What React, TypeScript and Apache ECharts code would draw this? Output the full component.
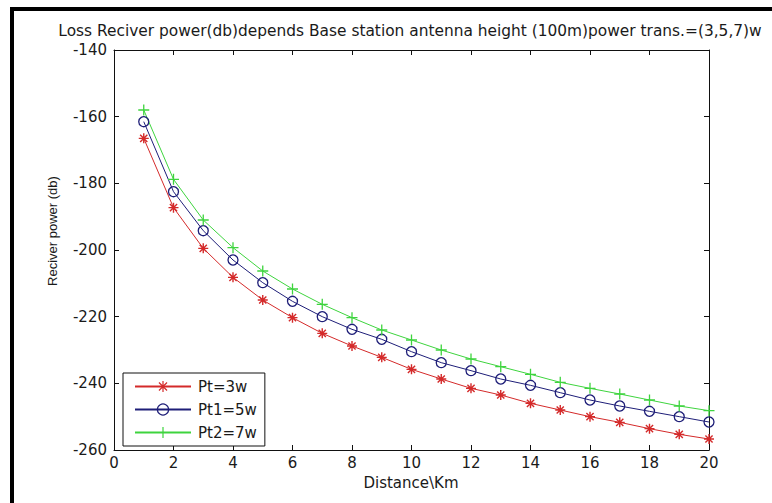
import React, { useEffect, useRef } from "react";
import * as echarts from "echarts";

const distanceKm = [1, 2, 3, 4, 5, 6, 7, 8, 9, 10, 11, 12, 13, 14, 15, 16, 17, 18, 19, 20];
const pt3w = [-166.5, -187.3, -199.5, -208.2, -215, -220.3, -225, -228.8, -232.2, -235.8, -238.7, -241.5, -243.5, -246, -248, -250, -251.7, -253.6, -255.3, -256.7];
const pt5w = [-161.5, -182.5, -194.2, -203, -209.8, -215.4, -220, -223.8, -226.8, -230.5, -233.8, -236.2, -238.7, -240.6, -242.8, -245, -246.8, -248.4, -250, -251.6];
const pt7w = [-158, -178.8, -191, -199.3, -206.3, -211.7, -216.3, -220.3, -224, -227, -230, -232.7, -235, -237.3, -239.7, -241.5, -243.2, -245, -246.8, -248.2];
const seriesNames = ["Pt=3w", "Pt1=5w", "Pt2=7w"];
const titleText = "Loss Reciver power(db)depends Base station antenna height (100m)power trans.=(3,5,7)w";
const xName = "Distance\\Km";
const yName = "Reciver power (db)";

const FONT = "DejaVu Sans";
const TXT = "#1a1a1a";
const STAR = "path://M0,-5L0,5M-5,0L5,0M-3.6,-3.6L3.6,3.6M-3.6,3.6L3.6,-3.6";
const PLUS = "path://M0,-5L0,5M-5,0L5,0";

export default function App() {
  const ref = useRef<HTMLDivElement>(null);
  useEffect(() => {
    if (!ref.current) return;
    const chart = echarts.init(ref.current, null, { renderer: "svg" });
    const pair = (arr: number[]) => distanceKm.map((d, i) => [d, arr[i]]);
    const axisCommon = {
      type: "value" as const,
      axisLine: { show: true, onZero: false, lineStyle: { color: "#111", width: 1 } },
      axisTick: { show: true, inside: true, length: 5, lineStyle: { color: "#111", width: 1 } },
      splitLine: { show: false },
    };
    chart.setOption({
      animation: false,
      backgroundColor: "#fff",
      grid: { left: 114, top: 50, width: 595, height: 400, containLabel: false },
      title: {
        text: titleText,
        left: 410,
        top: 23,
        textAlign: "center",
        padding: 0,
        textStyle: { fontFamily: FONT, fontSize: 15.4, fontWeight: "normal", color: TXT },
      },
      xAxis: [
        {
          ...axisCommon,
          position: "bottom",
          min: 0,
          max: 20,
          interval: 2,
          axisLabel: { show: true, margin: 5, fontFamily: FONT, fontSize: 15, color: TXT },
        },
        {
          ...axisCommon,
          position: "top",
          min: 0,
          max: 20,
          interval: 2,
          axisLabel: { show: false },
        },
      ],
      yAxis: [
        {
          ...axisCommon,
          position: "left",
          min: -260,
          max: -140,
          interval: 20,
          axisLabel: { show: true, margin: 7, fontFamily: FONT, fontSize: 15, color: TXT },
        },
        {
          ...axisCommon,
          position: "right",
          min: -260,
          max: -140,
          interval: 20,
          axisLabel: { show: false },
        },
      ],
      legend: {
        orient: "vertical",
        left: 123,
        top: 373,
        itemWidth: 56,
        itemHeight: 14,
        itemGap: 8,
        padding: [6, 8, 6, 11],
        borderColor: "#111",
        borderWidth: 1,
        backgroundColor: "#fff",
        borderRadius: 0,
        itemStyle: { borderWidth: 1.2 },
        textStyle: { fontFamily: FONT, fontSize: 15, color: TXT, lineHeight: 14, padding: [0, 0, 0, 2] },
        data: seriesNames,
      },
      graphic: [
        {
          type: "text",
          x: 52,
          y: 231,
          rotation: Math.PI / 2,
          style: {
            text: yName,
            fontFamily: "Liberation Sans",
            fontSize: 13,
            fill: TXT,
            textAlign: "center",
            textVerticalAlign: "middle",
          },
        },
        {
          type: "text",
          x: 411,
          y: 483,
          style: {
            text: xName,
            fontFamily: FONT,
            fontSize: 15,
            fill: TXT,
            textAlign: "center",
            textVerticalAlign: "middle",
          },
        },
        {
          type: "rect",
          shape: { x: 12, y: 9, width: 800, height: 600 },
          style: { fill: "none", stroke: "#000", lineWidth: 4 },
          silent: true,
        },
      ],
      series: [
        {
          name: seriesNames[0],
          type: "line",
          data: pair(pt3w),
          symbol: STAR,
          symbolSize: 10,
          lineStyle: { color: "#d42a2a", width: 1 },
          itemStyle: { color: "#d42a2a", borderColor: "#d42a2a", borderWidth: 1.4 },
        },
        {
          name: seriesNames[1],
          type: "line",
          data: pair(pt5w),
          symbol: "circle",
          symbolSize: 10,
          lineStyle: { color: "#1e1e78", width: 1 },
          itemStyle: { color: "rgba(0,0,0,0)", borderColor: "#1e1e78", borderWidth: 1.3 },
        },
        {
          name: seriesNames[2],
          type: "line",
          data: pair(pt7w),
          symbol: PLUS,
          symbolSize: 11,
          lineStyle: { color: "#3ed43e", width: 1 },
          itemStyle: { color: "#3ed43e", borderColor: "#3ed43e", borderWidth: 1.3 },
        },
      ],
    });
    return () => chart.dispose();
  }, []);
  return (
    <div
      ref={ref}
      style={{ position: "fixed", left: 0, top: 0, width: 772, height: 503, background: "#fff" }}
    />
  );
}
